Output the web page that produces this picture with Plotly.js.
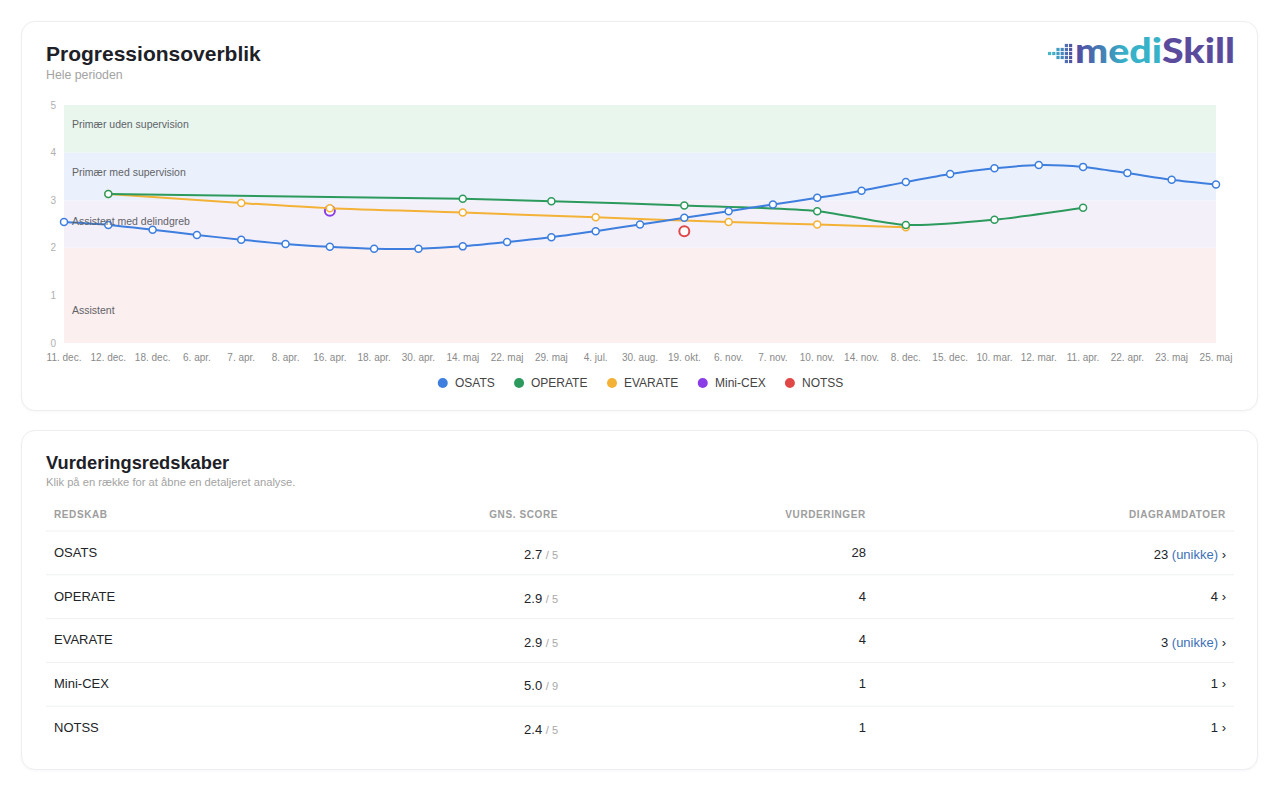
<!DOCTYPE html>
<html lang="da">
<head>
<meta charset="utf-8">
<title>Progressionsoverblik</title>
<script src="https://cdn.plot.ly/plotly-3.0.1.min.js"></script>
<style>
  html, body { margin: 0; padding: 0; background: #ffffff; width: 1280px; height: 810px; overflow: hidden;
    font-family: "Liberation Sans", Arial, Helvetica, sans-serif; }
  .card { position: absolute; left: 21px; width: 1235px; background: #fff; border: 1px solid #eceef1;
    border-radius: 14px; box-shadow: 0 1px 3px rgba(0,0,0,0.035); }
  .abs { position: absolute; white-space: nowrap; }
  .title { font-weight: bold; color: #1d2127; }
  .sub { color: #a3a3a3; line-height: 14px; }
  /* spaced-out column headings */
  #tools g#header text { letter-spacing: 0.6px; }
</style>
</head>
<body>
  <div class="card" style="top:21px;height:388px;"></div>
  <div class="card" style="top:430px;height:338px;"></div>

  <div class="abs title" style="left:46px;top:42px;font-size:21px;line-height:24px;">Progressionsoverblik</div>
  <div class="abs sub" style="left:46px;top:68px;font-size:12.3px;">Hele perioden</div>

  <svg class="abs" style="left:1044px;top:30px;overflow:visible;" width="200" height="42" viewBox="0 0 200 42">
    <defs>
      <linearGradient id="mediGrad" gradientUnits="userSpaceOnUse" x1="31" y1="0" x2="82" y2="0">
        <stop offset="0" stop-color="#5248a0"/>
        <stop offset="1" stop-color="#37b2c8"/>
      </linearGradient>
    </defs>
    <g id="logoDots"></g>
    <text x="31" y="33" font-family="Lato, 'Open Sans', sans-serif" font-weight="900" font-size="35"
          textLength="160" lengthAdjust="spacingAndGlyphs"><tspan fill="url(#mediGrad)">medi</tspan><tspan fill="#5a4b9d">Skill</tspan></text>
  </svg>

  <div id="chart" class="abs" style="left:21px;top:90px;width:1237px;height:315px;"></div>

  <div class="abs title" style="left:46px;top:452px;font-size:18.3px;line-height:22px;">Vurderingsredskaber</div>
  <div class="abs sub" style="left:46px;top:475px;font-size:11.2px;">Klik på en række for at åbne en detaljeret analyse.</div>

  <div id="tools" class="abs" style="left:46px;top:501px;width:1188px;height:270px;"></div>

<script>
// ---- logo mark: small dot cluster in front of the word mark ----
(function () {
  const g = document.getElementById('logoDots');
  const colHeights = [1, 1, 3, 3, 5, 5];
  const colColors = ['#45b8c6', '#42aec6', '#3f9cc2', '#4688bb', '#4c6db0', '#5057a5'];
  colHeights.forEach((h, c) => {
    for (let r = 0; r < h; r++) {
      const rect = document.createElementNS('http://www.w3.org/2000/svg', 'rect');
      rect.setAttribute('x', 4 + c * 4.2);
      rect.setAttribute('y', 21.9 + (r - (h - 1) / 2) * 4);
      rect.setAttribute('width', 3.2);
      rect.setAttribute('height', 3.2);
      rect.setAttribute('fill', colColors[c]);
      g.appendChild(rect);
    }
  });
})();

// ---- progression data ----
const dateLabels = ['11. dec.', '12. dec.', '18. dec.', '6. apr.', '7. apr.', '8. apr.', '16. apr.', '18. apr.',
  '30. apr.', '14. maj', '22. maj', '29. maj', '4. jul.', '30. aug.', '19. okt.', '6. nov.', '7. nov.',
  '10. nov.', '14. nov.', '8. dec.', '15. dec.', '10. mar.', '12. mar.', '11. apr.', '22. apr.', '23. maj', '25. maj'];

const osatsDates = dateLabels;
const osatsScores = [2.54, 2.48, 2.38, 2.27, 2.17, 2.08, 2.02, 1.98, 1.98, 2.03, 2.12, 2.22, 2.35, 2.49,
  2.63, 2.77, 2.91, 3.05, 3.20, 3.38, 3.55, 3.67, 3.74, 3.70, 3.57, 3.43, 3.33];

const operateDates = ['12. dec.', '14. maj', '29. maj', '19. okt.', '10. nov.', '8. dec.', '10. mar.', '11. apr.'];
const operateScores = [3.13, 3.03, 2.98, 2.89, 2.77, 2.48, 2.59, 2.84];

const evarateDates = ['12. dec.', '7. apr.', '16. apr.', '14. maj', '4. jul.', '6. nov.', '10. nov.', '8. dec.'];
const evarateScores = [3.13, 2.94, 2.83, 2.74, 2.64, 2.54, 2.49, 2.43];

// Mini-CEX is scored out of 9; shown on the common 0-5 scale (5.0 / 9)
const miniCexDates = ['16. apr.'];
const miniCexScores = [2.78];

const notssDates = ['19. okt.'];
const notssScores = [2.35];

const bandLimits = [0, 2, 3, 4, 5];
const bandNames = ['Assistent', 'Assistent med delindgreb', 'Primær med supervision', 'Primær uden supervision'];
const bandLabelLevels = [0.7, 2.57, 3.6, 4.6];
const bandColors = ['#fcefef', '#f4f0fa', '#ebf1fc', '#e8f6ee'];

const toolOrder = ['OSATS', 'OPERATE', 'EVARATE', 'Mini-CEX', 'NOTSS'];
const seriesColors = {
  OSATS: '#3d7ede', OPERATE: '#2c9a5c', EVARATE: '#f3b236', 'Mini-CEX': '#8a3de6', NOTSS: '#e04848'
};

const FONT = '"Liberation Sans", Arial, Helvetica, sans-serif';

function lineSeries(name, dates, scores) {
  const color = seriesColors[name];
  return {
    type: 'scatter', mode: 'lines+markers', name: name, showlegend: false,
    x: dates, y: scores, connectgaps: true, cliponaxis: false,
    line: { color: color, width: 2, shape: 'spline', smoothing: 0.8 },
    marker: { size: 7, color: '#ffffff', line: { color: color, width: 1.5 } },
    hovertemplate: name + ' %{x}: %{y:.2f}<extra></extra>'
  };
}
function singlePoint(name, dates, scores) {
  const color = seriesColors[name];
  return {
    type: 'scatter', mode: 'markers', name: name, showlegend: false,
    x: dates, y: scores, cliponaxis: false,
    marker: { size: 10, color: '#ffffff', line: { color: color, width: 2 } },
    hovertemplate: name + ' %{x}: %{y:.2f}<extra></extra>'
  };
}

// first listed tool sits on top, so add them back to front
const traces = [
  singlePoint('NOTSS', notssDates, notssScores),
  singlePoint('Mini-CEX', miniCexDates, miniCexScores),
  lineSeries('EVARATE', evarateDates, evarateScores),
  lineSeries('OPERATE', operateDates, operateScores),
  lineSeries('OSATS', osatsDates, osatsScores)
];

const bandShapes = bandColors.map((c, i) => ({
  type: 'rect', xref: 'paper', yref: 'y', x0: 0, x1: 1, y0: bandLimits[i], y1: bandLimits[i + 1],
  fillcolor: c, line: { width: 0 }, layer: 'below'
}));

const bandAnnotations = bandNames.map((t, i) => ({
  text: t, xref: 'paper', yref: 'y', x: 0, y: bandLabelLevels[i], xanchor: 'left', yanchor: 'middle',
  xshift: 6, showarrow: false, font: { family: FONT, size: 10.5, color: '#5f6368' }
}));

// compact legend row under the plot: dot, label, dot, label ...
const PLOT_W = 1237 - 43 - 42, PLOT_H = 315 - 15 - 62;
const LEGEND_Y = -40 / PLOT_H;
const measureCtx = document.createElement('canvas').getContext('2d');
measureCtx.font = '12px "Liberation Sans"';
const legendWidths = toolOrder.map(n => measureCtx.measureText(n).width);
const DOT_R = 5, DOT_TO_TEXT = 11, ITEM_GAP = 25.5;
const legendTotal = DOT_R + legendWidths.reduce((s, w) => s + DOT_TO_TEXT + w, 0) + ITEM_GAP * (toolOrder.length - 1);
let cursor = (PLOT_W - legendTotal) / 2 + DOT_R;
const legendShapes = [], legendAnnotations = [];
toolOrder.forEach((name, i) => {
  legendShapes.push({
    type: 'circle', xref: 'paper', yref: 'paper', xsizemode: 'pixel', ysizemode: 'pixel',
    xanchor: cursor / PLOT_W, yanchor: LEGEND_Y, x0: -DOT_R, x1: DOT_R, y0: -DOT_R, y1: DOT_R,
    fillcolor: seriesColors[name], line: { width: 0 }
  });
  legendAnnotations.push({
    text: name, xref: 'paper', yref: 'paper', x: (cursor + DOT_TO_TEXT) / PLOT_W, y: LEGEND_Y,
    xanchor: 'left', yanchor: 'middle', xshift: -1, showarrow: false,
    font: { family: FONT, size: 12, color: '#444' }
  });
  cursor += DOT_TO_TEXT + legendWidths[i] + ITEM_GAP;
});

const layout = {
  width: 1237, height: 315,
  margin: { l: 43, r: 42, t: 15, b: 62 },
  paper_bgcolor: 'rgba(0,0,0,0)', plot_bgcolor: '#ffffff',
  font: { family: FONT, size: 10, color: '#888' },
  xaxis: {
    type: 'category', categoryorder: 'array', categoryarray: dateLabels,
    range: [0, dateLabels.length - 1], showgrid: false, zeroline: false, showline: false,
    ticks: '', tickangle: 0, tickfont: { family: FONT, size: 10, color: '#8a8a8a' }, ticklabelstandoff: 7,
    fixedrange: true
  },
  yaxis: {
    range: [0, 5], tickvals: [0, 1, 2, 3, 4, 5], showgrid: false, zeroline: false, showline: false,
    ticks: '', tickfont: { family: FONT, size: 10, color: '#b0b0b0' }, ticklabelstandoff: 7, fixedrange: true
  },
  shapes: bandShapes.concat(legendShapes),
  annotations: bandAnnotations.concat(legendAnnotations),
  showlegend: false,
  hovermode: 'closest'
};

Plotly.newPlot('chart', traces, layout, { displayModeBar: false, responsive: false });

// ---- tool summary table ----
const toolNames = toolOrder;
const avgScores = [2.7, 2.9, 2.9, 5.0, 2.4];
const scoreScales = [5, 5, 5, 9, 5];
const assessmentCounts = [28, 4, 4, 1, 1];
const chartDateCounts = [23, 4, 3, 1, 1];
const hasUniqueNote = [true, false, true, false, false];
const headerLabels = ['REDSKAB', 'GNS. SCORE', 'VURDERINGER', 'DIAGRAMDATOER'];

// the only plain space in a cell is the one inside the span tag
const NB = '\u00a0';
const span = (style, s) => '<span style="' + style + '">' + s + '</span>';
const scoreCells = avgScores.map((v, i) =>
  v.toFixed(1) + NB + span('color:#a8a8a8;font-size:11px', '/' + NB + scoreScales[i]));
const dateCells = chartDateCounts.map((n, i) =>
  n + (hasUniqueNote[i] ? NB + span('color:#3d6fb6', '(unikke)') : '') + NB + '›');
const headerCells = headerLabels.map(h => '<b>' + h.replace(/ /g, NB) + '</b>');

const HEADER_H = 38, ROW_H = 43.8, TABLE_H = 270;

const tableTrace = {
  type: 'table', domain: { x: [0, 1], y: [0, 1] },
  columnwidth: [120, 400, 308, 360],
  header: {
    values: headerCells,
    align: ['left', 'right', 'right', 'right'], height: HEADER_H,
    font: { family: FONT, size: 10, color: '#9d9d9d' },
    fill: { color: '#ffffff' }, line: { color: '#ffffff', width: 1 }
  },
  cells: {
    values: [toolNames, scoreCells, assessmentCounts, dateCells],
    align: ['left', 'right', 'right', 'right'], height: ROW_H,
    font: { family: FONT, size: 13, color: '#222428' },
    fill: { color: '#ffffff' }, line: { color: '#ffffff', width: 1 }
  }
};

// thin separators under the header and between rows
const rowRules = toolNames.map((_, i) => {
  const yPx = HEADER_H - 8 + i * ROW_H;
  const yp = 1 - yPx / TABLE_H;
  return { type: 'line', xref: 'paper', yref: 'paper', x0: 0, x1: 1, y0: yp, y1: yp,
           line: { color: '#eef0f2', width: 1 }, layer: 'above' };
});

Plotly.newPlot('tools', [tableTrace], {
  width: 1188, height: TABLE_H, margin: { l: 0, r: 0, t: 0, b: 0 },
  paper_bgcolor: 'rgba(0,0,0,0)', shapes: rowRules, font: { family: FONT }
}, { displayModeBar: false });
</script>
</body>
</html>
